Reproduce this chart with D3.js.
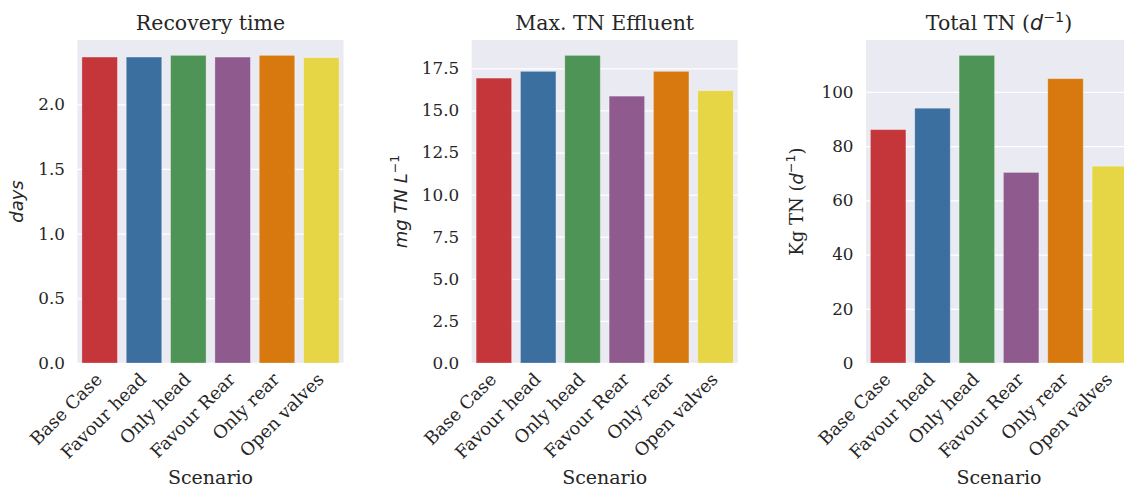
<!DOCTYPE html>
<html><head><meta charset="utf-8">
<script src="https://cdn.jsdelivr.net/npm/d3@7"></script>
<style>body{margin:0;background:#fff}</style>
</head><body>
<svg id="c" width="1124" height="488"></svg>
<script>
const categories = ["Base Case","Favour head","Only head","Favour Rear","Only rear","Open valves"];
const colors = ["#c4363a","#3b6fa0","#4f9457","#8f5b8e","#d8790f","#e6d646"];
const recoveryTime = [2.365,2.365,2.378,2.365,2.378,2.36];
const maxTNEffluent = [16.92,17.32,18.27,15.85,17.32,16.17];
const totalTN = [86.1,94.0,113.5,70.3,104.9,72.6];
const ticksRecovery = [0,0.5,1.0,1.5,2.0];
const ticksMaxTN = [0,2.5,5,7.5,10,12.5,15,17.5];
const ticksTotal = [0,20,40,60,80,100];

const svg = d3.select("#c");
const serif = "DejaVu Serif";
const sans = "DejaVu Sans";
const plotTop = 40, plotBottom = 363, W = 266;
const tickSize = 16.8, titleSize = 20.5, labelSize = 19;

const panels = [
  {left:77.5, data:recoveryTime, ticks:ticksRecovery, fmt:d3.format(".1f"), title:[["Recovery time",serif,"normal"]],
   ylab:[["days",sans,"italic"]], ylx:18},
  {left:471.7, data:maxTNEffluent, ticks:ticksMaxTN, fmt:d3.format(".1f"), title:[["Max. TN Effluent",serif,"normal"]],
   ylab:[["mg TN L",sans,"italic"],["−1",sans,"normal","sup"]], ylx:402},
  {left:866, data:totalTN, ticks:ticksTotal, fmt:d3.format("d"), title:[["Total TN (",serif,"normal"],["d",sans,"italic"],["−1",sans,"normal","sup"],[")",serif,"normal"]],
   ylab:[["Kg TN (",serif,"normal"],["d",sans,"italic"],["−1",sans,"normal","sup"],[")",serif,"normal"]], ylx:798}
];

function rich(sel, parts, size){
  parts.forEach((p,i)=>{
    const t = sel.append("tspan").text(p[0]).attr("font-family",p[1]).attr("font-style",p[2]);
    if(p[3]==="sup"){ t.attr("font-size",size*0.7).attr("dy",-size*0.38); }
    else {
      t.attr("font-size",size);
      if(i>0 && parts[i-1][3]==="sup") t.attr("dy",size*0.38);
    }
  });
}

panels.forEach(p=>{
  const g = svg.append("g");
  const x = d3.scaleBand().domain(categories).range([p.left,p.left+W]).paddingInner(0.2).paddingOuter(0.1);
  const y = d3.scaleLinear().domain([0, d3.max(p.data)*1.05]).range([plotBottom, plotTop]);
  g.append("rect").attr("x",p.left).attr("y",plotTop).attr("width",W).attr("height",plotBottom-plotTop).attr("fill","#eaeaf2");
  const ya = d3.axisLeft(y).tickValues(p.ticks).tickFormat(p.fmt).tickSize(-W).tickPadding(12.5);
  const yg = g.append("g").attr("transform",`translate(${p.left},0)`).call(ya);
  yg.select(".domain").remove();
  yg.selectAll(".tick line").attr("stroke","#fff").attr("stroke-width",1.3);
  yg.selectAll(".tick text").attr("font-family",serif).attr("font-size",tickSize).attr("fill","#262626");
  g.selectAll(".bar").data(p.data).enter().append("rect")
    .attr("x",(d,i)=>x(categories[i])).attr("width",x.bandwidth())
    .attr("y",d=>y(d)).attr("height",d=>plotBottom-y(d))
    .attr("fill",(d,i)=>colors[i]).attr("stroke","rgba(255,255,255,0.35)").attr("stroke-width",0.8);
  const xa = d3.axisBottom(x).tickSize(0).tickPadding(0);
  const xg = g.append("g").attr("transform",`translate(0,${plotBottom})`).call(xa);
  xg.select(".domain").remove();
  xg.selectAll(".tick text").attr("font-family",serif).attr("font-size",tickSize+1).attr("fill","#262626")
    .attr("text-anchor","end").attr("dy",null).attr("y",null)
    .attr("transform","translate(0,14) rotate(-45)").attr("dominant-baseline","middle");
  const t = g.append("text").attr("x",p.left+W/2).attr("y",30).attr("text-anchor","middle").attr("fill","#262626");
  rich(t,p.title,titleSize);
  const yl = g.append("text").attr("transform",`translate(${p.ylx},${(plotTop+plotBottom)/2}) rotate(-90)`).attr("text-anchor","middle").attr("fill","#262626").attr("dominant-baseline","middle");
  rich(yl,p.ylab,18);
  g.append("text").attr("x",p.left+W/2).attr("y",484).attr("text-anchor","middle").attr("font-family",serif).attr("font-size",labelSize).attr("fill","#262626").text("Scenario");
});
</script>
</body></html>
